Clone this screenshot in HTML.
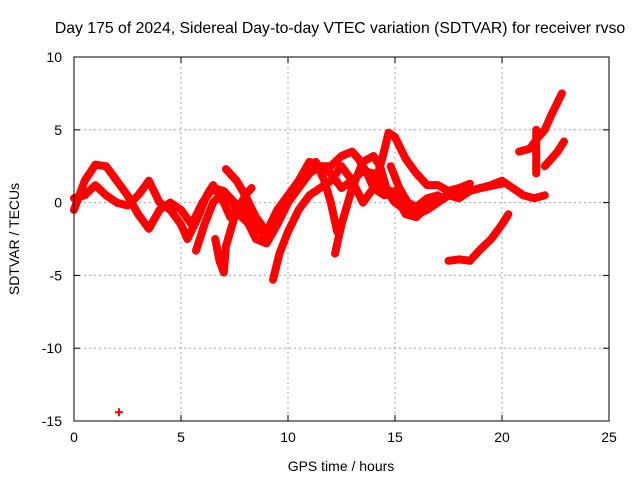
<!DOCTYPE html>
<html><head><meta charset="utf-8"><style>
body{margin:0;background:#fff;}
svg{display:block;font-family:"Liberation Sans",sans-serif;}
</style></head><body>
<svg id="chart" width="640" height="480" viewBox="0 0 640 480">
<text x="340" y="33" text-anchor="middle" font-size="15.8">Day 175 of 2024, Sidereal Day-to-day VTEC variation (SDTVAR) for receiver rvso</text>
<text x="341" y="471" text-anchor="middle" font-size="14">GPS time / hours</text>
<text transform="translate(19,239) rotate(-90)" text-anchor="middle" font-size="14">SDTVAR / TECUs</text>
<g id="grid"></g>
<g id="ticks"></g>
<g id="series"></g>
<rect x="74" y="57" width="535" height="364" fill="none" stroke="#000" stroke-width="1"/>
</svg>
<script>
const xTicks=[0,5,10,15,20,25];
const yTicks=[10,5,0,-5,-10,-15];
const tr1=[[0,-0.5],[0.5,1.5],[1,2.6],[1.5,2.5],[2,1.5],[2.5,0.5],[3,-0.8],[3.5,-1.8],[4,-0.5],[4.5,0],[5,-0.5],[5.5,-1.5],[6,0],[6.5,1],[7,0.8],[7.5,0],[8,-1],[8.5,-2.5],[9,-2.8],[9.5,-1.5],[10,0],[10.5,1],[11,2],[11.5,2.5],[12,2],[12.5,1],[13,1.5],[13.5,2.2],[14,2],[14.5,1],[15,0],[15.5,-0.5],[16,-0.8],[16.5,-0.5],[17,0],[17.5,0.5],[18,0.5],[18.5,0.8],[19,1],[19.5,1.2],[20,1.5],[20.5,1],[21,0.5],[21.5,0.3],[22,0.5]];
const tr2=[[0,0.3],[0.5,0.5],[1,1.2],[1.5,0.5],[2,0],[2.5,-0.2],[3,0.5],[3.5,1.5],[4,0],[4.5,-0.5],[5,-1.5],[5.3,-2.5],[5.8,-1],[6.2,0.5],[6.5,1.2],[7,0],[7.3,-1],[7.6,-0.5],[8,0],[8.5,-1.5],[9,-2.5],[9.5,-1],[10,0.5],[10.5,1.5],[11,2.8],[11.5,2.5],[12,2.5],[12.5,3.2],[13,3.5],[13.3,3],[13.7,2],[14,1],[14.5,0.5],[15,0.8],[15.5,0],[16,-0.5],[16.5,0],[17,0.3],[17.5,0.5],[18,0.3],[18.5,0.8],[19,1],[20,1.3]];
const tr3=[[5.7,-3.3],[6.1,-1.5],[6.5,0],[6.9,0.6],[7.3,0.3],[7.7,-0.8],[8.2,-1.5]];
const tr4=[[6.6,-2.5],[6.8,-4],[7,-4.8],[7.1,-3],[7.5,-1],[8,0.5],[8.3,1]];
const tr5=[[7.1,2.3],[7.6,1.5],[8,0.5],[8.5,-1],[9,-2],[9.5,-0.5],[10,0.5]];
const tr6=[[9.3,-5.3],[9.6,-3.5],[10,-2],[10.5,-0.5],[11,0.5],[11.5,1],[12,1.5],[12.5,2.5],[13,1.5],[13.5,0],[14,1],[14.4,3],[14.7,4.8],[15,4.5],[15.5,3],[16,2],[16.5,1.2],[17,1.2],[17.5,0.8],[18,1],[18.5,1.3]];
const tr7=[[12.2,-3.5],[12.5,-1.5],[12.8,0],[13,1],[13.5,2.8],[14,3.2],[14.3,2.5],[14.6,1],[15,0.5],[15.5,-0.8],[16,-1],[16.5,-0.3],[17,0.3]];
const tr8=[[11.3,2.8],[11.7,1.5],[12,0],[12.3,-2]];
const tr9=[[17.5,-4],[18,-3.9],[18.5,-4],[19,-3.2],[19.5,-2.5],[20,-1.5],[20.3,-0.8]];
const tr10=[[20.8,3.5],[21.3,3.7],[21.7,4.5],[22,5],[22.3,6],[22.8,7.5]];
const tr11=[[22,2.5],[22.3,3],[22.6,3.5],[22.9,4.2]];
const tr12=[[21.6,5],[21.6,4],[21.6,3],[21.6,2]];
const tr13=[[14.8,2.5],[15.2,1],[15.6,0],[16,-0.3],[16.5,0.3],[17,0.5]];
const outliers=[[2.1,-14.4]];
const traces=[tr1,tr2,tr3,tr4,tr5,tr6,tr7,tr8,tr9,tr10,tr11,tr12,tr13];
const NS="http://www.w3.org/2000/svg";
const X0=74,X1=609,Y0=421,Y1=57;
function sx(v){return X0+(v-0)/(25-0)*(X1-X0);}
function sy(v){return Y0-(v-(-15))/(10-(-15))*(Y0-Y1);}
function mk(tag,attrs,parent){const e=document.createElementNS(NS,tag);for(const k in attrs)e.setAttribute(k,attrs[k]);parent.appendChild(e);return e;}
const grid=document.getElementById('grid'),ticks=document.getElementById('ticks'),ser=document.getElementById('series');
xTicks.forEach(t=>{
  const x=sx(t);
  if(t>0&&t<25){const g=mk('line',{x1:x,x2:x,y1:Y1,y2:Y0,stroke:'#a0a0a0','stroke-dasharray':'2,3'},grid);
  
  }
  mk('line',{x1:x,x2:x,y1:Y0,y2:Y0-6,stroke:'#000'},ticks);
  mk('line',{x1:x,x2:x,y1:Y1,y2:Y1+6,stroke:'#000'},ticks);
  const l=mk('text',{x:x,y:Y0+21,'text-anchor':'middle','font-size':'14'},ticks);l.textContent=t;
  
  
});
yTicks.forEach(t=>{
  const y=sy(t);
  if(t>-15&&t<10){const g=mk('line',{x1:X0,x2:X1,y1:y,y2:y,stroke:'#a0a0a0','stroke-dasharray':'2,3'},grid);
  
  }
  mk('line',{x1:X0,x2:X0+6,y1:y,y2:y,stroke:'#000'},ticks);
  mk('line',{x1:X1,x2:X1-6,y1:y,y2:y,stroke:'#000'},ticks);
  const l=mk('text',{x:X0-12,y:y+5,'text-anchor':'end','font-size':'14'},ticks);l.textContent=t;
  
  
});
traces.forEach((tr,i)=>{
  const p=mk('polyline',{points:tr.map(d=>sx(d[0])+','+sy(d[1])).join(' '),fill:'none',stroke:'#ff0000','stroke-width':'8','stroke-linejoin':'round','stroke-linecap':'round'},ser);
  
  
});
outliers.forEach(d=>{
  const x=sx(d[0]),y=sy(d[1]);
  const p=mk('path',{d:`M${x-4},${y}H${x+4}M${x},${y-4}V${y+4}`,stroke:'#ff0000','stroke-width':'2'},ser);
  
  
});
</script>
</body></html>
